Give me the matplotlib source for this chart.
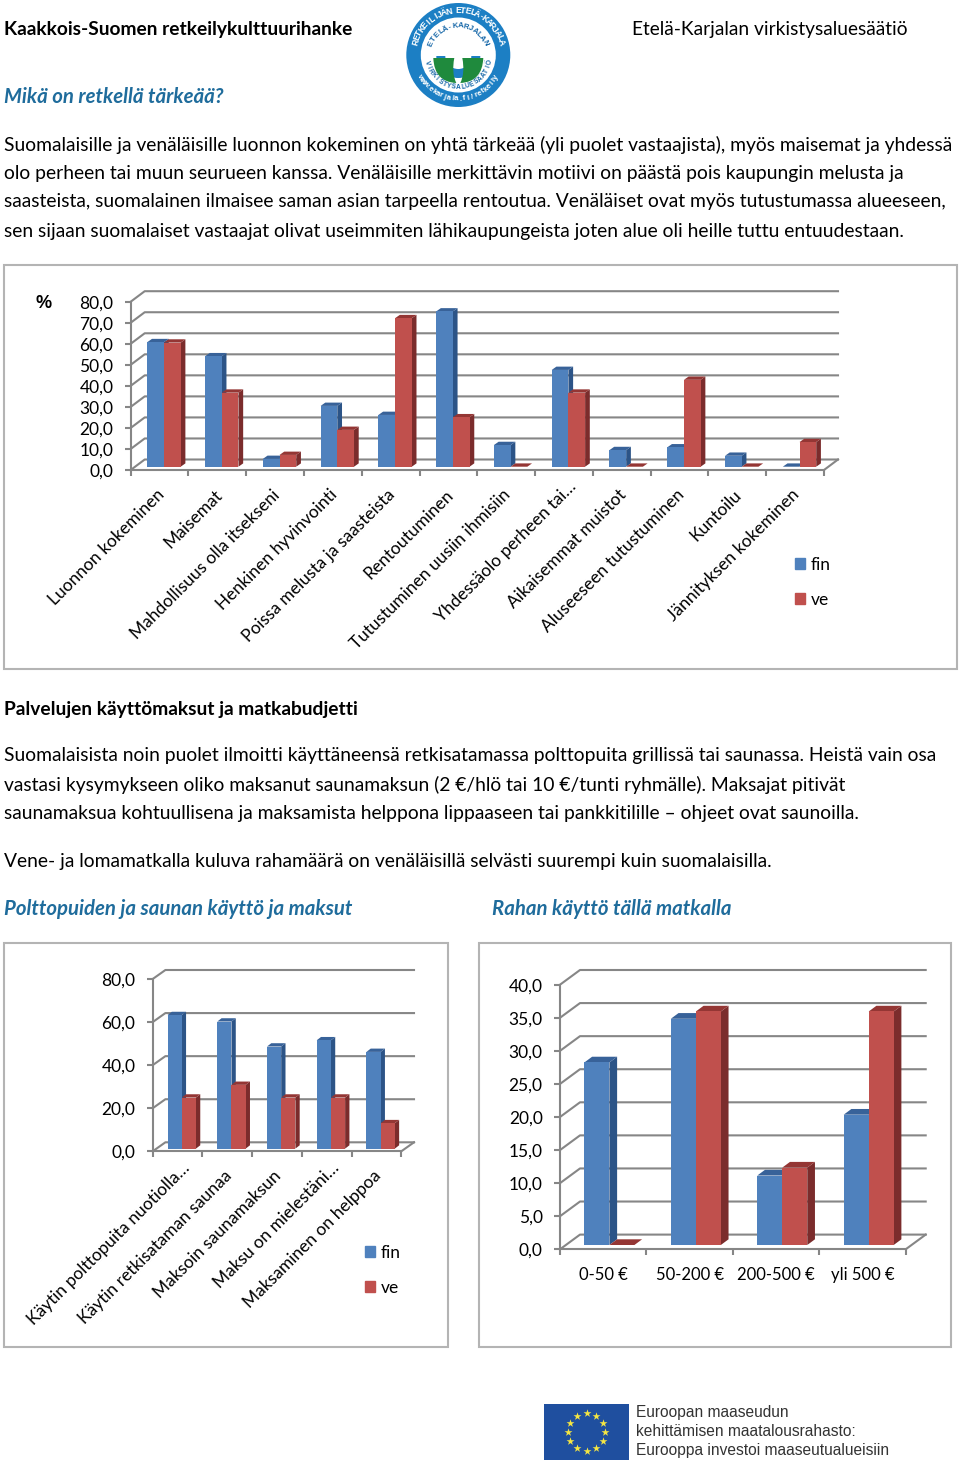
# -*- coding: utf-8 -*-
import numpy as np
import matplotlib
matplotlib.use('Agg')
import matplotlib.pyplot as plt
from matplotlib.patches import Circle, Wedge, Rectangle, PathPatch
from matplotlib.path import Path
from matplotlib.transforms import ScaledTranslation

plt.rcParams['font.family'] = ['Lato', 'DejaVu Sans']

# chart data
motive_labels = ['Luonnon kokeminen', 'Maisemat', 'Mahdollisuus olla itsekseni', 'Henkinen hyvinvointi',
                 'Poissa melusta ja saasteista', 'Rentoutuminen', 'Tutustuminen uusiin ihmisiin',
                 'Yhdessäolo perheen tai…', 'Aikaisemmat muistot', 'Aluseeseen tutustuminen',
                 'Kuntoilu', 'Jännityksen kokeminen']
motive_fin = [59.2, 52.5, 3.7, 28.9, 24.6, 73.8, 10.3, 46.0, 7.9, 9.2, 5.2, 0.0]
motive_ve = [59.0, 35.2, 5.6, 17.5, 70.6, 23.5, 0.0, 35.2, 0.0, 41.3, 0.0, 11.7]

sauna_labels = ['Käytin polttopuita nuotiolla…', 'Käytin retkisataman saunaa', 'Maksoin saunamaksun',
                'Maksu on mielestäni…', 'Maksaminen on helppoa']
sauna_fin = [62.0, 59.0, 47.4, 50.3, 44.9]
sauna_ve = [23.7, 29.6, 23.7, 23.7, 11.8]

money_labels = ['0-50 €', '50-200 €', '200-500 €', 'yli 500 €']
money_fin = [27.6, 34.2, 10.5, 19.7]
money_ve = [0.0, 35.3, 11.7, 35.3]

# page text
W, H = 960, 1461
para1 = ['Suomalaisille ja venäläisille luonnon kokeminen on yhtä tärkeää (yli puolet vastaajista), myös maisemat ja yhdessä',
         'olo perheen tai muun seurueen kanssa. Venäläisille merkittävin motiivi on päästä pois kaupungin melusta ja',
         'saasteista, suomalainen ilmaisee saman asian tarpeella rentoutua. Venäläiset ovat myös tutustumassa alueeseen,',
         'sen sijaan suomalaiset vastaajat olivat useimmiten lähikaupungeista joten alue oli heille tuttu entuudestaan.']
para2 = ['Suomalaisista noin puolet ilmoitti käyttäneensä retkisatamassa polttopuita grillissä tai saunassa. Heistä vain osa',
         'vastasi kysymykseen oliko maksanut saunamaksun (2 €/hlö tai 10 €/tunti ryhmälle). Maksajat pitivät',
         'saunamaksua kohtuullisena ja maksamista helppona lippaaseen tai pankkitilille – ohjeet ovat saunoilla.']
para3 = 'Vene- ja lomamatkalla kuluva rahamäärä on venäläisillä selvästi suurempi kuin suomalaisilla.'

BLUE, BLUE_SIDE, BLUE_TOP = '#4f81bd', '#2c5487', '#386299'
RED, RED_SIDE, RED_TOP = '#c0504d', '#7b2c2c', '#943634'
GRID = '#868686'
HEAD = '#1f6c9c'
BODY_SIZE = 13.88
BOLD_SIZE = 13.8
HEAD_SIZE = 14.7

fig = plt.figure(figsize=(W / 100, H / 100), dpi=100, facecolor='white')
page = fig.add_axes([0, 0, 1, 1])
page.set_xlim(0, W)
page.set_ylim(H, 0)
page.axis('off')


def txt(x, y, s, size=BODY_SIZE, **kw):
    kw.setdefault('color', 'black')
    kw.setdefault('va', 'center')
    page.text(x, y + 1, s, fontsize=size, **kw)


def chart(x0, x1, y0, y1, ymax, step, floor, inset, depth, bw, labels, fin, ve, rotate=True, size=12.5):
    # front plane of the 3d box is the axes rectangle, everything else is offset in px
    ax = fig.add_axes([x0 / W, 1 - y0 / H, (x1 - x0) / W, (y0 - y1) / H])
    ax.patch.set_visible(False)
    n = len(labels)
    ax.set_xlim(0, n)
    ax.set_ylim(0, ymax)
    sx = (x1 - x0) / n
    sy = (y0 - y1) / ymax
    fx, fy = floor[0] / sx, floor[1] / sy
    ticks = np.arange(0, ymax + step / 2, step)

    # back wall and left wall lines
    for v in ticks:
        ax.plot([0, fx, n + fx], [v, v + fy, v + fy], color=GRID, lw=1.5, clip_on=False, zorder=1)
    ax.plot([n, n + fx], [0, fy], color=GRID, lw=1.5, clip_on=False, zorder=1)

    # bars, drawn left to right so the red front hides the blue side
    ix, iy = inset[0] / sx, inset[1] / sy
    dx, dy = depth[0] / sx, depth[1] / sy
    w = bw / sx
    centers = np.arange(n) + 0.5
    handles = [Rectangle((0, 0), 1, 1, color=BLUE, label='fin'), Rectangle((0, 0), 1, 1, color=RED, label='ve')]
    z = 2.0
    for i, c in enumerate(centers):
        for vals, off, face, side, top in [(fin, -w, BLUE, BLUE_SIDE, BLUE_TOP),
                                           (ve, 0, RED, RED_SIDE, RED_TOP)]:
            left = c + ix + off
            h = vals[i]
            ax.fill([left + w, left + w + dx, left + w + dx, left + w],
                    [iy, iy + dy, iy + dy + h, iy + h], color=side, lw=0, clip_on=False, zorder=z)
            ax.fill([left, left + dx, left + w + dx, left + w],
                    [iy + h, iy + h + dy, iy + h + dy, iy + h], color=top, lw=0, clip_on=False, zorder=z)
            ax.bar(left, h, w, bottom=iy, align='edge', color=face, lw=0, clip_on=False, zorder=z + 0.1)
            z += 0.2

    for sp in ['top', 'right']:
        ax.spines[sp].set_visible(False)
    for sp in ['left', 'bottom']:
        ax.spines[sp].set_color(GRID)
        ax.spines[sp].set_linewidth(1.5)
    ax.set_yticks(ticks)
    ax.set_yticklabels([f'{v:.1f}'.replace('.', ',') for v in ticks], fontsize=size)
    ax.tick_params(axis='y', length=4, width=1.5, color=GRID, pad=8.5)
    ax.set_xticks(np.arange(n + 1), minor=True)
    ax.tick_params(axis='x', which='minor', length=4, width=1.5, color=GRID)
    ax.set_xticks(centers)
    if rotate:
        ax.set_xticklabels(labels, rotation=45, ha='right', va='top', rotation_mode='anchor', fontsize=size)
        ax.tick_params(axis='x', which='major', length=0, pad=13)
        # labels sit a little left of the cell centre in the original, cut ones run further up
        for lab in ax.get_xticklabels():
            extra = 8 if lab.get_text().endswith('…') else 0
            shift = ScaledTranslation((-3.7 + extra) / 100, (1.5 + extra) / 100, fig.dpi_scale_trans)
            lab.set_transform(lab.get_transform() + shift)
    else:
        ax.set_xticklabels(labels, fontsize=12)
        ax.tick_params(axis='x', which='major', length=0, pad=12.5)
    return ax, handles


def add_legend(ax, handles, x, y):
    ax.legend(handles=handles, loc='upper left', bbox_to_anchor=(x, y), bbox_transform=page.transData,
              frameon=False, fontsize=12.5, handlelength=0.6, handleheight=0.6, handletextpad=0.3,
              labelspacing=1.07, borderpad=0, borderaxespad=0)


def arc_text(s, cx, cy, r, a0, a1, size, color, bottom=False):
    for ch, a in zip(s, np.linspace(a0, a1, len(s))):
        t = np.deg2rad(a)
        rot = a - 270 if bottom else a - 90
        page.text(cx + r * np.cos(t), cy - r * np.sin(t), ch, fontsize=size, color=color, ha='center',
                  va='center', rotation=rot, rotation_mode='anchor', fontweight='bold', family='Liberation Sans')


def logo(cx, cy):
    page.add_patch(Circle((cx, cy), 52, color='#1c7fc4', lw=0))
    page.add_patch(Circle((cx, cy), 37.5, color='white', lw=0))
    page.add_patch(Wedge((cx, cy + 1), 22, 0, 180, color='#1c7fc4', lw=0))
    page.add_patch(Wedge((cx, cy + 1), 13, 0, 180, color='white', lw=0))
    for m in (-1, 1):
        verts = [(cx + m * 25, cy + 3), (cx + m * 4, cy + 3), (cx + m * 7, cy + 18), (cx + m * 2, cy + 28),
                 (cx + m * 24, cy + 27), (cx + m * 25, cy + 3)]
        codes = [Path.MOVETO, Path.LINETO, Path.CURVE3, Path.CURVE3, Path.CURVE3, Path.CURVE3]
        page.add_patch(PathPatch(Path(verts, codes), color='#1f8a3d', lw=0))
    arc_text('RETKEILIJÄN ETELÄ-KARJALA', cx, cy, 44.5, 163, 17, 6.2, 'white')
    arc_text('ETELÄ-KARJALAN', cx, cy, 29, 157, 25, 5.6, '#1667a8')
    arc_text('VIRKISTYSALUESÄÄTIÖ', cx, cy, 32.5, 193, 347, 4.8, '#1667a8', bottom=True)
    arc_text('www.ekarjala.fi/retkeily', cx, cy, 44, 210, 330, 5.6, 'white', bottom=True)


def eu_flag(x0, y0, x1, y1):
    page.add_patch(Rectangle((x0, y0), x1 - x0, y1 - y0, color='#1f4f9f', lw=0))
    a = np.deg2rad(np.arange(0, 360, 30))
    page.scatter((x0 + x1) / 2 + 18.7 * np.cos(a), (y0 + y1) / 2 + 18.7 * np.sin(a), marker='*', s=36,
                 color='#f5e642', lw=0, zorder=3)
    for y, s in [(1412, 'Euroopan maaseudun'), (1431, 'kehittämisen maatalousrahasto:'),
                 (1449.5, 'Eurooppa investoi maaseutualueisiin')]:
        txt(636, y, s, size=11.2, color='#333333', family='Liberation Sans')


# header
txt(4, 29, 'Kaakkois-Suomen retkeilykulttuurihanke', size=BOLD_SIZE, fontweight='bold')
txt(632, 29, 'Etelä-Karjalan virkistysaluesäätiö', size=13.8)
logo(458.3, 55)
txt(4, 96, 'Mikä on retkellä tärkeää?', size=HEAD_SIZE, fontweight='bold', style='italic', color=HEAD)
for y, s in zip([144, 172, 201, 230], para1):
    txt(4, y, s)

# chart frames
for x0, y0, x1, y1 in [(3.5, 265, 957, 669), (3.5, 943, 448, 1347), (479, 943, 951, 1347)]:
    page.add_patch(Rectangle((x0, y0), x1 - x0, y1 - y0, fill=False, edgecolor='#b4b4b4', lw=1.5))

txt(36, 303, '%', size=13, fontweight='bold', family='Liberation Sans')
ax1, h1 = chart(130.7, 824, 470, 301.7, 80, 10, (14, 10.5), (4.4, 3.3), (4.7, 3.3), 16.7,
                motive_labels, motive_fin, motive_ve)
add_legend(ax1, h1, 795, 557)

txt(4, 708, 'Palvelujen käyttömaksut ja matkabudjetti', size=BOLD_SIZE, fontweight='bold')
for y, s in zip([755, 784, 813], para2):
    txt(4, y, s)
txt(4, 861, para3)
txt(4, 908, 'Polttopuiden ja saunan käyttö ja maksut', size=HEAD_SIZE, fontweight='bold', style='italic', color=HEAD)
txt(492, 908, 'Rahan käyttö tällä matkalla', size=HEAD_SIZE, fontweight='bold', style='italic', color=HEAD)

ax2, h2 = chart(152.7, 401.3, 1151.3, 979, 80, 20, (12.7, 9), (4.2, 2.7), (4.3, 3.3), 14.2,
                sauna_labels, sauna_fin, sauna_ve)
add_legend(ax2, h2, 365, 1245)
chart(560, 905.7, 1249.3, 984.7, 40, 5, (20, 14.7), (6.2, 4.3), (7.7, 5.7), 25,
      money_labels, money_fin, money_ve, rotate=False)

eu_flag(544, 1404, 629, 1460)

fig.savefig('out.png', dpi=100)
